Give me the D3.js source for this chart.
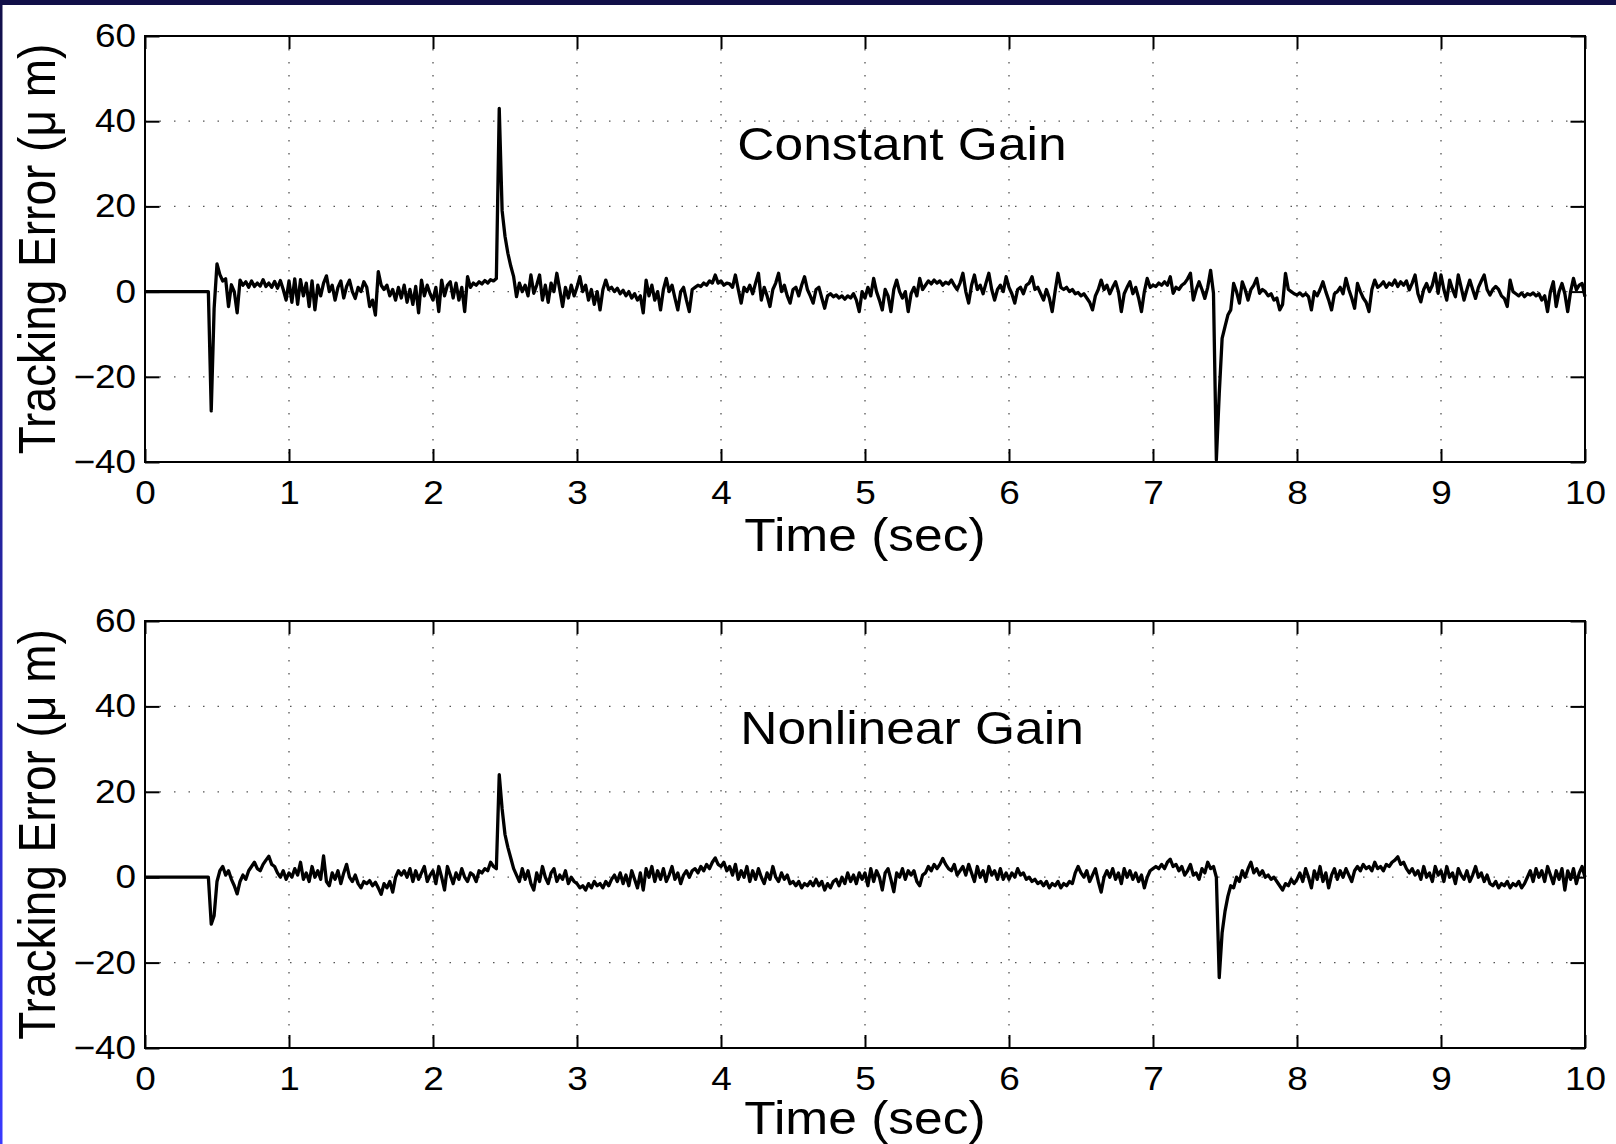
<!DOCTYPE html>
<html><head><meta charset="utf-8">
<script src="https://cdn.jsdelivr.net/npm/d3@7"></script>
<style>body{margin:0;background:#fff}svg{display:block}</style>
</head><body>
<script>
// sampling interval of the recorded error signals (seconds)
const timeStep = 0.02;

// Constant Gain tracking error (µm), one value every 0.02 s from 0 to 10 s
const constantGainError = [
  0,0,0,0,0,0,0,0,0,0,0,0,0,0,0,0,0,0,0,0,0,0,0,-28,-4,
  6.5,4,2.5,3,-3.5,1.6,0,-5,2.7,1.5,2.3,1,2.5,1.2,2,1.3,2.8,1.2,2,1,2.4,0.8,2.6,0.5,-2,
  2.5,-2.5,3,-3,2.8,-1,2,-3.5,2.5,-4.3,1.5,-1,2,3.7,0,1.5,-2,1,2.5,-1.5,1.2,2.7,0,-1.6,1,
  0,2.3,1,-3.5,-2,-5.5,4.7,1.5,0.5,1.5,-1,0.5,-2,1,-1.5,1.5,-2.5,0.5,-3,1.2,-5,2.7,-1,1.5,-0.5,
  -2,1,-4.7,2.7,-1,1.5,2.3,-1.5,2,-2,1,-4.7,3.5,1,2,1.5,2.3,1.8,2.6,2,2.8,2.5,3.1,43,19,
  13,9,6,3.5,-1.2,2,0,1.5,-1,3.9,-0.4,1.5,3.9,-2,1.5,-2.5,2,0,4.3,0.5,-3.5,1,-1.5,1.5,-1,
  1,3.5,0,1.5,-2,0.5,-3,0,-4.3,0.5,2.7,0.5,1,0,0.8,-0.5,0.3,-1,0,-1.5,-0.5,-2,-1,-5,2.7,
  -1,1.5,-2,0,-4.3,0.5,3.1,0,1.5,-1.5,-4.3,0,1,-2,-4.7,0.5,1,1.5,1.2,2,1.5,2.5,2,3.9,2,
  2.5,1.5,2,1.8,1,3.9,0.5,-2.7,1,0,1.5,-0.5,2,4.3,-2,1,-1,-3.5,0.5,2,4.3,0,1.5,-1,-2.7,
  0.5,1,-1,1.5,3.5,0.5,-1,-2.7,0.5,1,-1.5,-3.9,-1,-0.5,-1.2,-0.8,-1.5,-1,-1.8,-1,-1.5,-0.5,-2,-4.7,0,
  -1.5,1,-1,3.1,0,-2,-4.3,0.5,-1,-4.7,0.5,2.7,0,-1.5,0,-4.7,-0.5,1,-1,3.1,0.5,1.5,2.5,1.8,2.7,
  2,2.5,1.5,2.2,1.8,2.7,1.5,0.5,2,4.3,0,-2.7,1.5,3.9,0.5,1.5,-0.5,2,4.3,0.5,-2,0.5,1.5,0,3.5,
  1,-0.5,-2.7,0.5,1,-0.5,1.5,2,3.5,0.5,1,-0.5,-2,0.5,-1.5,-4.7,0,4.3,1,0.5,1,0,0.5,-0.5,-0.2,
  -1,-0.5,-1.5,-2.5,-4.3,-1,0.5,2.7,0.5,1.5,-0.5,1,2.3,0,-4.7,-0.5,1,2.3,-0.5,1,-1.5,-4.7,0,3.1,1,
  1.5,1.2,2,1.5,2.3,1.5,3.5,-0.4,1,0.5,1.5,2,3,4.3,-2,0.5,2.3,0.5,-1.6,1,5,-0.4,-39.5,-24,-11,
  -8.2,-5.5,-4.3,1.9,0,-2.7,2.3,0.5,-2,0.5,1.5,3.1,-0.4,0.5,0,-1,-0.5,-2,-1.5,-4.3,-3,4.3,0.5,0,-0.5,
  -0.8,-0.3,-1,-0.5,-1.2,-4.3,0,-1,0.5,2.3,0,-2,-4.3,-0.5,0,1,-0.5,3.1,0.5,-1.5,-3.9,1.9,0,-1.5,-2.5,
  -4.7,0.5,2.7,1,1.5,2.3,1,2,1.5,2.7,1.2,2.3,1.5,2.5,0.4,2,3.9,-0.5,-2.4,0.5,1.9,0,1.5,4.3,-0.4,
  3.9,0.5,-2,2.7,0.5,-1.2,3.9,1,-2,0.5,2.7,0.5,-1.6,1,2.5,3.9,0.5,-0.8,0.5,1.2,0.5,-1,-1.6,-3.5,2.7,
  0,-0.5,-1,-0.3,-1.2,-0.5,-0.8,-0.3,-1,-0.5,-2,-1,-4.7,0,2.3,-3.5,0,1.9,-0.5,-4.7,0,3.1,0.4,1.5,1.9,
  -1.2
];

// Nonlinear Gain tracking error (µm), one value every 0.02 s from 0 to 10 s
const nonlinearGainError = [
  0,0,0,0,0,0,0,0,0,0,0,0,0,0,0,0,0,0,0,0,0,0,0,-11,-9,
  -1,1.5,2.5,0.5,1.5,-0.5,-2,-3.9,-1,0.5,-0.5,1.5,2.5,3.5,2,1.5,3,4,4.9,3,2.5,1,0,1.5,-0.5,
  1,0,2,0.5,3.5,-0.5,1,-1,2.5,0,1.5,-0.5,5,-1,-2,1,-0.5,1.5,-1.5,1,3,0,-1,0.5,-1.5,
  -2.5,-1,-1.5,-0.8,-2,-1.2,-2.5,-4,-1.5,-2.5,-1,-3.5,0,1.5,0.5,1.5,0,2,-1,1.5,-0.5,1,2.5,-1,0.5,
  1.5,-1.5,2.5,0,-3,2.5,0.5,-1.5,1,-0.5,2,0,-1,1,0.5,-1,1.5,1,2,1.5,3.5,2.5,2,24,16,
  10,7,4.5,2,0.5,-1,2,-0.5,1.5,-1.5,-3,1,-1,2.5,0,-1.5,1,2,-1,0.5,-0.5,1.5,-1.5,0,-1,
  -1.5,-2.5,-2,-3,-1.5,-2.5,-1,-2,-1.5,-2.5,-1,-2,-0.5,0.5,-1,1,-1.5,0.5,-2,1.5,-0.5,-2.5,1,-3,2,
  0,2.5,-1,1.5,-0.5,2,-1,0.5,2.5,-0.5,1,-1.5,0.5,1.5,0,1.5,2,1,2.5,1.5,3,2,3.5,4.5,3,
  2.5,3.5,1.5,2.5,0.5,3,-0.5,1.5,0,2.5,-1,1.5,-0.5,2,0,-1.5,1,-0.5,2.5,0,-1,1,-0.5,0.5,-1.5,
  -1,-2,-1,-2.5,-1.5,-2,-1,-2,-0.5,-2,-1,-3,-1.5,-2.5,-1,-0.5,-2,0,-1.5,1,-1,0.5,-1.5,1,-0.5,
  1,-2,2,-1,1.5,0,-3,1,2,-0.5,-3.4,1,0,2,-0.5,1.5,0.5,1.5,-1,-2,0.5,1,2.5,1.5,3,
  2,3,4.4,3,2,1.5,3,0.5,1.5,2.5,0.5,3,1,-1,2.5,0,1.5,-1,2.5,0.5,1.5,-0.5,2,-0.5,1,
  -0.5,1,0,2,0.5,1,-0.5,0,-1,-0.5,-1.5,-1,-2,-1,-2.5,-1.5,-2,-1,-2.5,-1.5,-2,-1,-1.5,1,2.5,
  1,0,1.5,-1,0.5,2,-1,-3.5,0,1.5,0,2,-0.5,1,-1.5,2,0,1.5,-0.5,1,-1,0.5,-2.5,0,1.5,
  2,2.5,2,3,2,3.5,4.2,2.5,3,1.5,2.5,0.5,1.5,3,0.5,1,-0.5,2,1,3.5,2,2.5,0,-23.5,-13,
  -8,-4.5,-2,-2.5,0,-1,1.5,0,2,3.5,1,2,0.5,1.5,0,0.5,-0.5,0,-1,-2,-3,-1.5,-2,-0.5,-1.5,
  -0.5,1,-1,2,0,-2.5,1.5,-0.5,2.5,-1,1,-2.5,0.5,2,-0.5,1.5,0,2,0.5,-1,1.5,2.5,1.5,3,2,
  2.5,1.5,3.5,2,2.5,1.5,3,2.5,3.5,4,4.8,3,3.5,2,1,2,0.5,1.5,-0.5,2.5,0,1,-1,2.5,0.5,
  1.5,-1,2.5,0,1,-1.5,2,0.5,-0.5,1.5,-1,0.5,2.5,0,1,-1,0.5,-1.5,-2,-1,-2.5,-1.5,-2,-1,-2.5,
  -1.5,-2,-1,-2.5,-1.5,0,1.5,-1,2,0,1.5,-1,2.5,0.5,-1.5,1.5,-0.5,2,-3,1.5,-0.5,2,-1.5,1,2.5,
  0
];

const xTickValues = [0,1,2,3,4,5,6,7,8,9,10];
const yTickValues = [-40,-20,0,20,40,60];
const panelTitles = ["Constant Gain", "Nonlinear Gain"];
const xAxisLabel = "Time (sec)";
const yAxisLabel = "Tracking Error (\u03bc m)";

const W = 1616, H = 1144;
const SX = 1.12;           // horizontal stretch of the original figure
const FONT = "'Liberation Sans', Arial, Helvetica, sans-serif";

const svg = d3.select("body").append("svg").attr("width", W).attr("height", H);
const defs = svg.append("defs");
const grad = defs.append("linearGradient").attr("id", "edge").attr("x1", 0).attr("y1", 0).attr("x2", 0).attr("y2", 1);
grad.append("stop").attr("offset", "0%").attr("stop-color", "#110f48");
grad.append("stop").attr("offset", "100%").attr("stop-color", "#3a3aff");

svg.append("rect").attr("width", W).attr("height", H).attr("fill", "#fff");
svg.append("rect").attr("x", 0).attr("y", 0).attr("width", W).attr("height", 5).attr("fill", "#110f48");
svg.append("rect").attr("x", 0).attr("y", 0).attr("width", 2.5).attr("height", H).attr("fill", "url(#edge)");

const left = 145, right = 1585;
const panels = [
  {data: constantGainError, top: 36, bottom: 462, title: panelTitles[0], titleX: 902, titleY: 160, xLabelY: 551},
  {data: nonlinearGainError, top: 621, bottom: 1048, title: panelTitles[1], titleX: 912, titleY: 744, xLabelY: 1134}
];

panels.forEach(p => {
  const x = d3.scaleLinear().domain([0, 10]).range([left, right]);
  const y = d3.scaleLinear().domain([-40, 60]).range([p.bottom, p.top]);
  const g = svg.append("g");

  // dotted grid
  g.append("g").selectAll("line").data(xTickValues.slice(1, -1)).join("line")
    .attr("x1", d => x(d)).attr("x2", d => x(d))
    .attr("y1", p.top).attr("y2", p.bottom)
    .attr("stroke", "#555").attr("stroke-width", 1.3)
    .attr("stroke-dasharray", "1.5,11.5");
  g.append("g").selectAll("line").data(yTickValues.slice(1, -1)).join("line")
    .attr("x1", left).attr("x2", right)
    .attr("y1", d => y(d)).attr("y2", d => y(d))
    .attr("stroke", "#555").attr("stroke-width", 1.3)
    .attr("stroke-dasharray", "1.5,13");

  // data
  const line = d3.line().x((d, i) => x(i * timeStep)).y(d => y(d));
  g.append("path").datum(p.data).attr("d", line)
    .attr("fill", "none").attr("stroke", "#000").attr("stroke-width", 3.3)
    .attr("stroke-linejoin", "round");

  // axes with inward ticks
  const styleAxis = sel => {
    sel.select(".domain").remove();
    sel.selectAll(".tick line").attr("stroke", "#000").attr("stroke-width", 2);
    sel.selectAll(".tick text").attr("fill", "#000").style("font-family", FONT).style("font-size", "33px")
      .attr("transform", `scale(${SX},1)`);
  };
  g.append("g").attr("transform", `translate(0,${p.bottom})`)
    .call(d3.axisBottom(x).tickValues(xTickValues).tickSize(-13).tickSizeOuter(0).tickPadding(19).tickFormat(d3.format("d")))
    .call(styleAxis);
  g.append("g").attr("transform", `translate(0,${p.top})`)
    .call(d3.axisTop(x).tickValues(xTickValues).tickSize(-13).tickSizeOuter(0).tickFormat(""))
    .call(styleAxis);
  g.append("g").attr("transform", `translate(${left},0)`)
    .call(d3.axisLeft(y).tickValues(yTickValues).tickSize(-14.5).tickSizeOuter(0).tickPadding(8).tickFormat(d3.format("d")))
    .call(styleAxis);
  g.append("g").attr("transform", `translate(${right},0)`)
    .call(d3.axisRight(y).tickValues(yTickValues).tickSize(-14.5).tickSizeOuter(0).tickFormat(""))
    .call(styleAxis);

  // frame
  g.append("rect").attr("x", left).attr("y", p.top).attr("width", right - left).attr("height", p.bottom - p.top)
    .attr("fill", "none").attr("stroke", "#000").attr("stroke-width", 2);

  // panel title
  g.append("text").attr("transform", `translate(${p.titleX},${p.titleY}) scale(${SX},1)`)
    .attr("text-anchor", "middle").style("font-family", FONT).style("font-size", "46px").text(p.title);

  // axis labels
  g.append("text").attr("transform", `translate(${(left + right) / 2},${p.xLabelY}) scale(${SX},1)`)
    .attr("text-anchor", "middle").style("font-family", FONT).style("font-size", "46px").text(xAxisLabel);
  g.append("text").attr("transform", `translate(55,${(p.top + p.bottom) / 2}) rotate(-90) scale(1,${SX})`)
    .attr("text-anchor", "middle").style("font-family", FONT).style("font-size", "46px").text(yAxisLabel);
});
</script>
</body></html>
